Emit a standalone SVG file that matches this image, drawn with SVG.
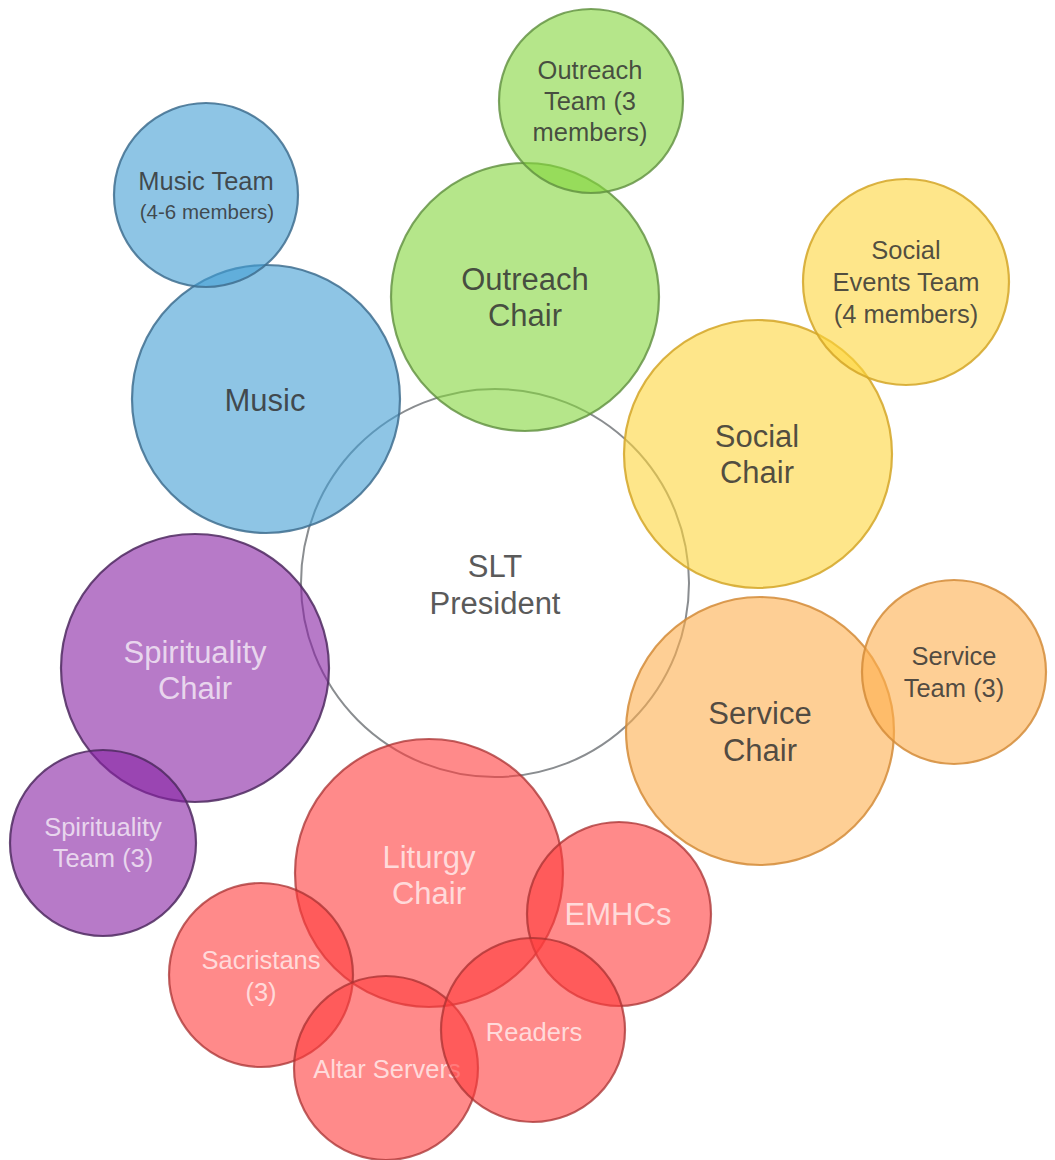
<svg xmlns="http://www.w3.org/2000/svg" width="1055" height="1160" viewBox="0 0 1055 1160">
<style>
circle{stroke-width:2.2}
.pres{fill:none;stroke:#8a8d90;stroke-width:2}
.blue{fill:rgb(67,158,212);fill-opacity:.6;stroke:#3f6f8f;stroke-opacity:.85}
.green{fill:rgb(132,213,60);fill-opacity:.6;stroke:#5f8f3f;stroke-opacity:.8}
.yellow{fill:rgb(253,213,60);fill-opacity:.6;stroke:#d3a628;stroke-opacity:.85}
.orange{fill:rgb(253,175,78);fill-opacity:.6;stroke:#d48c3a;stroke-opacity:.85}
.purple{fill:rgb(135,33,163);fill-opacity:.6;stroke:#4f2a60;stroke-opacity:.85}
.red{fill:rgb(255,60,60);fill-opacity:.6;stroke:#a83232;stroke-opacity:.75}
text{font-family:"Liberation Sans",Arial,sans-serif;text-anchor:middle}
.dk{fill:#333;fill-opacity:.85}
.pt{fill:#5a5a5a}
.lt{fill:#fff;fill-opacity:.7}
.big{font-size:31px}
.med{font-size:25.5px}
.sm{font-size:20.5px}
</style>
<g id="slt-president">
<circle class="pres" cx="495" cy="583" r="194"/>
<text class="pt big" x="495" y="577">SLT</text>
<text class="pt big" x="495" y="614">President</text>
</g>
<g id="music">
<circle class="blue" cx="266" cy="399" r="134"/>
<text class="dk big" x="265" y="411">Music</text>
</g>
<g id="music-team">
<circle class="blue" cx="206" cy="195" r="92"/>
<text class="dk med" x="206" y="190">Music Team</text>
<text class="dk sm" x="207" y="219">(4-6 members)</text>
</g>
<g id="outreach-chair">
<circle class="green" cx="525" cy="297" r="134"/>
<text class="dk big" x="525" y="290">Outreach</text>
<text class="dk big" x="525" y="326">Chair</text>
</g>
<g id="outreach-team">
<circle class="green" cx="591" cy="101" r="92"/>
<text class="dk med" x="590" y="79">Outreach</text>
<text class="dk med" x="590" y="110">Team (3</text>
<text class="dk med" x="590" y="141">members)</text>
</g>
<g id="social-chair">
<circle class="yellow" cx="758" cy="454" r="134"/>
<text class="dk big" x="757" y="447">Social</text>
<text class="dk big" x="757" y="483">Chair</text>
</g>
<g id="social-events-team">
<circle class="yellow" cx="906" cy="282" r="103"/>
<text class="dk med" x="906" y="259">Social</text>
<text class="dk med" x="906" y="291">Events Team</text>
<text class="dk med" x="906" y="323">(4 members)</text>
</g>
<g id="service-chair">
<circle class="orange" cx="760" cy="731" r="134"/>
<text class="dk big" x="760" y="724">Service</text>
<text class="dk big" x="760" y="761">Chair</text>
</g>
<g id="service-team">
<circle class="orange" cx="954" cy="672" r="92"/>
<text class="dk med" x="954" y="665">Service</text>
<text class="dk med" x="954" y="697">Team (3)</text>
</g>
<g id="spirituality-chair">
<circle class="purple" cx="195" cy="668" r="134"/>
<text class="lt big" x="195" y="663">Spirituality</text>
<text class="lt big" x="195" y="699">Chair</text>
</g>
<g id="spirituality-team">
<circle class="purple" cx="103" cy="843" r="93"/>
<text class="lt med" x="103" y="836">Spirituality</text>
<text class="lt med" x="103" y="867">Team (3)</text>
</g>
<g id="liturgy-chair">
<circle class="red" cx="429" cy="873" r="134"/>
<text class="lt big" x="429" y="868">Liturgy</text>
<text class="lt big" x="429" y="904">Chair</text>
</g>
<g id="emhcs">
<circle class="red" cx="619" cy="914" r="92"/>
<text class="lt big" x="618" y="925">EMHCs</text>
</g>
<g id="sacristans">
<circle class="red" cx="261" cy="975" r="92"/>
<text class="lt med" x="261" y="969">Sacristans</text>
<text class="lt med" x="261" y="1001">(3)</text>
</g>
<g id="altar-servers">
<circle class="red" cx="386" cy="1068" r="92"/>
<text class="lt med" x="387" y="1078">Altar Servers</text>
</g>
<g id="readers">
<circle class="red" cx="533" cy="1030" r="92"/>
<text class="lt med" x="534" y="1041">Readers</text>
</g>
<g id="connectors"></g>
</svg>
